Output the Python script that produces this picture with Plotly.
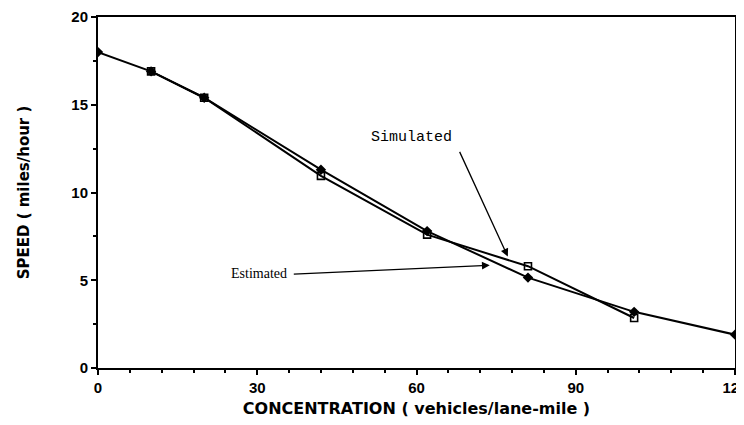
import plotly.graph_objects as go

# Data
conc_est = [0, 10, 20, 42, 62, 81, 101, 120]
speed_est = [18.0, 16.9, 15.4, 11.3, 7.8, 5.15, 3.2, 1.9]

conc_sim = [10, 20, 42, 62, 81, 101]
speed_sim = [16.9, 15.4, 10.95, 7.6, 5.8, 2.85]

x_ticks = [0, 30, 60, 90, 120]
y_ticks = [0, 5, 10, 15, 20]

fig = go.Figure()

fig.add_trace(go.Scatter(
    x=conc_sim, y=speed_sim, mode="lines+markers", name="Simulated",
    line=dict(color="black", width=2),
    marker=dict(symbol="square-open", size=7, color="black", line=dict(width=1.6)),
))
fig.add_trace(go.Scatter(
    x=conc_est, y=speed_est, mode="lines+markers", name="Estimated",
    line=dict(color="black", width=2),
    marker=dict(symbol="diamond", size=8, color="black"),
))

axis_common = dict(
    showgrid=False, zeroline=False, showline=True, linecolor="black", linewidth=2,
    mirror=True, ticks="outside", ticklen=5, tickwidth=2, tickcolor="black",
    tickfont=dict(family="Liberation Sans", size=15, color="black", weight="bold"),
    ticklabeloverflow="allow",
)

fig.update_xaxes(
    range=[0, 120], tickvals=x_ticks, ticktext=[str(v) for v in x_ticks],
    minor=dict(dtick=6, ticks="outside", ticklen=3, tickwidth=1.5, tickcolor="black", showgrid=False),
    title=dict(text="CONCENTRATION ( vehicles/lane-mile )",
               font=dict(family="DejaVu Sans", size=16, color="black", weight="bold"), standoff=8),
    automargin=False,
    **axis_common,
)
fig.update_yaxes(
    range=[0, 20], tickvals=y_ticks, ticktext=[str(v) for v in y_ticks],
    minor=dict(dtick=2.5, ticks="outside", ticklen=3, tickwidth=1.5, tickcolor="black", showgrid=False),
    title=dict(text="SPEED ( miles/hour )",
               font=dict(family="DejaVu Sans", size=15, color="black", weight="bold"), standoff=38),
    automargin=False,
    **axis_common,
)

# Labels
fig.add_annotation(x=59.1, y=13.15, xref="x", yref="y", text="Simulated", showarrow=False,
                   font=dict(family="Liberation Mono", size=15, color="black"))
fig.add_annotation(x=30.3, y=5.4, xref="x", yref="y", text="Estimated", showarrow=False,
                   font=dict(family="Liberation Serif", size=14, color="black"))

# Arrows
fig.add_annotation(x=77.2, y=6.35, ax=68.0, ay=12.4, xref="x", yref="y", axref="x", ayref="y",
                   text="", showarrow=True, arrowhead=2, arrowsize=1.2, arrowwidth=1.3,
                   arrowcolor="black")
fig.add_annotation(x=73.8, y=5.85, ax=36.6, ay=5.35, xref="x", yref="y", axref="x", ayref="y",
                   text="", showarrow=True, arrowhead=2, arrowsize=1.2, arrowwidth=1.3,
                   arrowcolor="black")

# page body has an 8px margin, so the figure is sized to fit the window
fig.update_layout(
    width=736, height=417,
    margin=dict(l=90, r=9, t=9, b=57),
    plot_bgcolor="white", paper_bgcolor="white",
    showlegend=False,
)

fig.write_html("out.html")
